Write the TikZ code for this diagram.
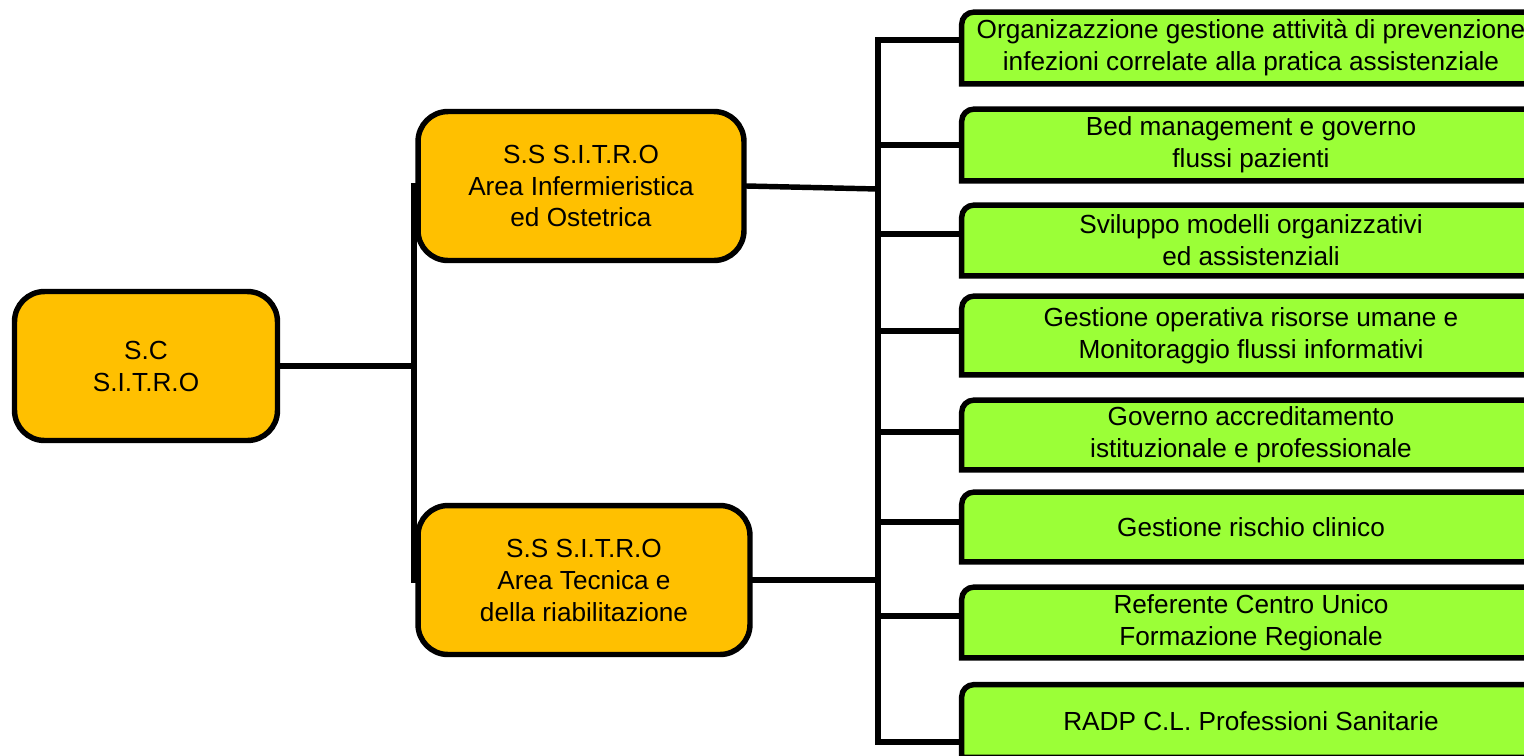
\documentclass[tikz,border=0pt]{standalone}
\usepackage{fontspec}
\setmainfont{Liberation Sans}
\usetikzlibrary{backgrounds}
\definecolor{unitorange}{RGB}{255,192,0}
\definecolor{officegreen}{RGB}{155,255,55}

\begin{document}
\begin{tikzpicture}[
        x=0.02cm, y=-0.02cm,
        font=\fontsize{14.9}{18.2}\selectfont,
        link/.style = {line width=3.1pt, line cap=rect},
        unit/.style = {
            draw, fill=unitorange, line width=3.1pt, rounded corners=0.6cm,
            align=center, inner sep=0pt, minimum height=2.98cm, minimum width=#1
        },
        office/.style = {
            align=center, inner sep=0pt, minimum width=11.56cm, minimum height=#1
        },
        officebox/.style = {draw, fill=officegreen, line width=3.1pt}
    ]
        \useasboundingbox (0,0) rectangle (1524,755);
        \clip (0,0) rectangle (1524,755);

        % structures
        \node[unit=5.26cm] (root) at (146,366) {S.C\\S.I.T.R.O};
        \node[unit=6.52cm] (ss1) at (581,186) {S.S S.I.T.R.O\\Area Infermieristica\\ed Ostetrica};
        \node[unit=6.64cm] (ss2) at (584,580) {S.S S.I.T.R.O\\Area Tecnica e\\della riabilitazione};

        % offices
        \node[office=1.42cm] (g1) at (1251,48)    {Organizazzione gestione attività di prevenzione\\infezioni correlate alla pratica assistenziale};
        \node[office=1.42cm] (g2) at (1251,145)   {Bed management e governo\\flussi pazienti};
        \node[office=1.40cm] (g3) at (1251,240.5) {Sviluppo modelli organizzativi\\ed assistenziali};
        \node[office=1.56cm] (g4) at (1251,335.5) {Gestione operativa risorse umane e\\Monitoraggio flussi informativi};
        \node[office=1.38cm] (g5) at (1251,435)   {Governo accreditamento\\istituzionale e professionale};
        \node[office=1.38cm] (g6) at (1251,527)   {Gestione rischio clinico};
        \node[office=1.40cm] (g7) at (1251,622.5) {Referente Centro Unico\\Formazione Regionale};
        \node[office=1.44cm] (g8) at (1251,721)   {RADP C.L. Professioni Sanitarie};

        \begin{scope}[on background layer]
            \foreach \n in {g1,g2,g3,g4,g5,g6,g7,g8}
                \draw[officebox] (\n.south east) -- (\n.south west)
                    [rounded corners=0.24cm] -- (\n.north west)
                    [sharp corners] -- (\n.north east) -- cycle;
        \end{scope}

        % connectors
        \coordinate (hub) at (414,366);
        \coordinate (bus) at (878,0);

        \draw[link] (root.east) -- (root.east -| hub);
        \draw[link] (ss1.west -| hub) -- (ss2.west -| hub);
        \draw[link] (ss1.east) -- ([yshift=-0.06cm]ss1.east -| bus);
        \draw[link] (ss2.east) -- (ss2.east -| bus);

        \foreach \n/\dy in {g1/0.16, g2/0, g3/0.13, g4/0.09, g5/0.06, g6/0.1, g7/0.13, g8/-0.42}
        {
            \coordinate (stub-\n) at ([yshift=\dy cm]\n.west);
            \draw[link] (stub-\n) -- (stub-\n -| bus);
        }
        \draw[link] (stub-g1 -| bus) -- (stub-g8 -| bus);
    \end{tikzpicture}
\end{document}
